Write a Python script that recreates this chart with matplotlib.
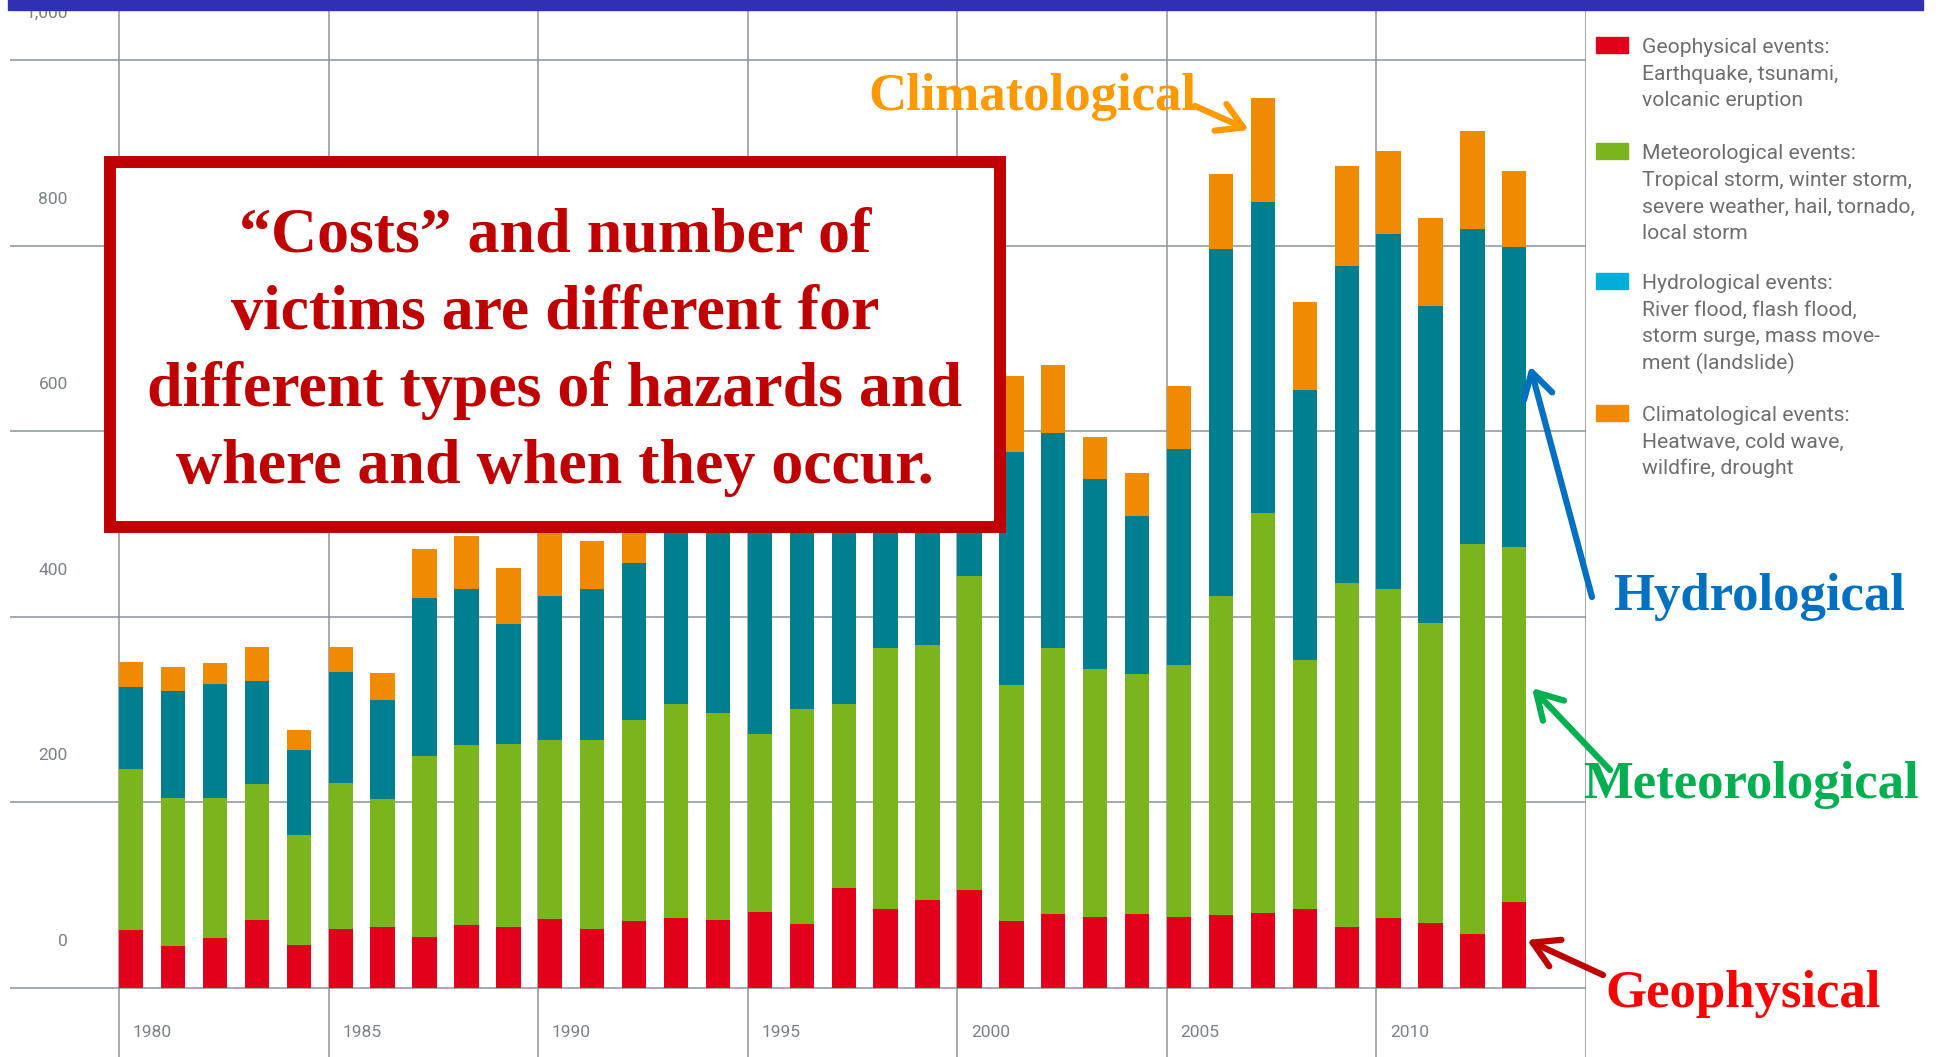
import numpy as np
import matplotlib.pyplot as plt
from matplotlib.patches import Rectangle
from matplotlib.patches import ArrowStyle

# Number of relevant natural loss events worldwide, by type
years = np.arange(1980, 2014)
geophysical = [62, 45, 54, 73, 46, 64, 66, 55, 68, 66, 74, 64, 72, 75, 73, 82, 69,
               108, 85, 95, 106, 72, 80, 77, 80, 77, 79, 81, 85, 66, 75, 70, 58, 93]
meteorological = [174, 160, 151, 147, 119, 157, 138, 195, 194, 197, 193, 203, 217, 231,
                  223, 192, 232, 198, 281, 275, 338, 254, 286, 267, 258, 271, 343, 431,
                  268, 370, 355, 323, 420, 382]
hydrological = [88, 115, 123, 111, 91, 119, 106, 170, 168, 129, 155, 163, 169, 214, 204,
                256, 239, 254, 234, 250, 256, 252, 232, 204, 171, 233, 374, 335, 291,
                342, 382, 342, 340, 323]
climatological = [27, 26, 22, 36, 22, 27, 29, 53, 57, 61, 88, 52, 72, 50, 45, 50, 50,
                  60, 80, 80, 80, 81, 73, 46, 46, 68, 81, 112, 95, 108, 90, 95, 105, 82]

y_ticks = [0, 200, 400, 600, 800, 1000]
y_tick_labels = ["0", "200", "400", "600", "800", "1,000"]
x_label_years = [1980, 1985, 1990, 1995, 2000, 2005, 2010]
grid_years = [1980, 1985, 1990, 1995, 2000, 2005, 2010, 2015]

series = [geophysical, meteorological, hydrological, climatological]
bar_colors = ["#E2001A", "#7AB51D", "#007F91", "#F08A00"]

legend_colors = ["#E2001A", "#7AB51D", "#00AEDA", "#F08A00"]
legend_texts = [
    ["Geophysical events:", "Earthquake, tsunami,", "volcanic eruption"],
    ["Meteorological events:", "Tropical storm, winter storm,",
     "severe weather, hail, tornado,", "local storm"],
    ["Hydrological events:", "River flood, flash flood,",
     "storm surge, mass move-", "ment (landslide)"],
    ["Climatological events:", "Heatwave, cold wave,", "wildfire, drought"],
]

box_lines = [
    "\u201cCosts\u201d and number of",
    "victims are different for",
    "different types of hazards and",
    "where and when they occur.",
]

W, H = 1944, 1057
GRID = "#8C939A"
TICK = "#7A8189"


def fx(x):
    return x / W


def fy(y):
    return 1 - y / H


fig = plt.figure(figsize=(W / 100, H / 100), dpi=100)
ax = fig.add_axes([fx(10), 0, (1586 - 10) / W, 1 - 9.5 / H])
ax.set_xlim(1977.4, 2015.0)
ax.set_ylim(-74.4, 1054.4)
ax.axis("off")

for v in y_ticks:
    ax.axhline(v, color=GRID, lw=1.1, zorder=0)
for yr in grid_years:
    ax.axvline(yr, color=GRID, lw=1.1, zorder=0)

bottom = np.zeros(len(years))
for vals, col in zip(series, bar_colors):
    ax.bar(years, vals, width=0.58, bottom=bottom, align="edge", color=col, zorder=2)
    bottom += np.array(vals)

for v, lab in zip(y_ticks, y_tick_labels):
    ax.text(1978.78, v + 50, lab, ha="right", va="center", fontsize=12.5,
            color=TICK, family="Roboto")
for yr in x_label_years:
    ax.text(yr + 0.33, -48.5, str(yr), ha="left", va="center", fontsize=12.5,
            color=TICK, family="Roboto")

# blue strip along the top
fig.add_artist(Rectangle((fx(8), fy(9.5)), (1923 - 8) / W, 9.5 / H,
                         transform=fig.transFigure, color="#3030B4", zorder=3))

# legend on the right, one text per line so the spacing stays even
legend_tops = [37, 143, 273, 405]
for col, lines, top in zip(legend_colors, legend_texts, legend_tops):
    fig.add_artist(Rectangle((fx(1596), fy(top + 16)), 32 / W, 16 / H,
                             transform=fig.transFigure, color=col))
    for j, line in enumerate(lines):
        fig.text(fx(1642), fy(top + 16 + 26.7 * j), line, ha="left",
                 va="baseline", fontsize=15.2, color="#6E6E6E", family="Roboto")

# message box
fig.add_artist(Rectangle((fx(110), fy(527)), 890 / W, 365 / H,
                         transform=fig.transFigure, lw=8.6, ec="#C00000",
                         fc="white", zorder=5))
for i, line in enumerate(box_lines):
    fig.text(fx(555), fy(252 + 77 * i), line, ha="center", va="baseline",
             fontsize=46, color="#C00000", family="Liberation Serif",
             weight="bold", zorder=6)

# hazard type call-outs
callouts = [
    ("Climatological", "#FF9900", "#FF9900", (868, 110), (1195, 106), (1249, 130)),
    ("Hydrological", "#0070C0", "#0070C0", (1613, 610), (1592, 597), (1530, 366)),
    ("Meteorological", "#00B050", "#00B050", (1583, 798), (1610, 770), (1532, 688)),
    ("Geophysical", "#FF0000", "#C00000", (1605, 1007), (1603, 975), (1527, 940)),
]
head = ArrowStyle("->", head_length=0.6, head_width=0.35)
for label, tcol, acol, tpos, tail, tip in callouts:
    fig.text(fx(tpos[0]), fy(tpos[1]), label, ha="left", va="baseline",
             fontsize=38, color=tcol, family="Liberation Serif", weight="bold",
             zorder=7)
    ax.annotate("", xy=(tip[0], H - tip[1]), xycoords="figure pixels",
                xytext=(tail[0], H - tail[1]), textcoords="figure pixels",
                arrowprops=dict(arrowstyle=head, color=acol, lw=4.5,
                                mutation_scale=30, shrinkA=0, shrinkB=0),
                zorder=7)

fig.savefig("out.png", dpi=100)
